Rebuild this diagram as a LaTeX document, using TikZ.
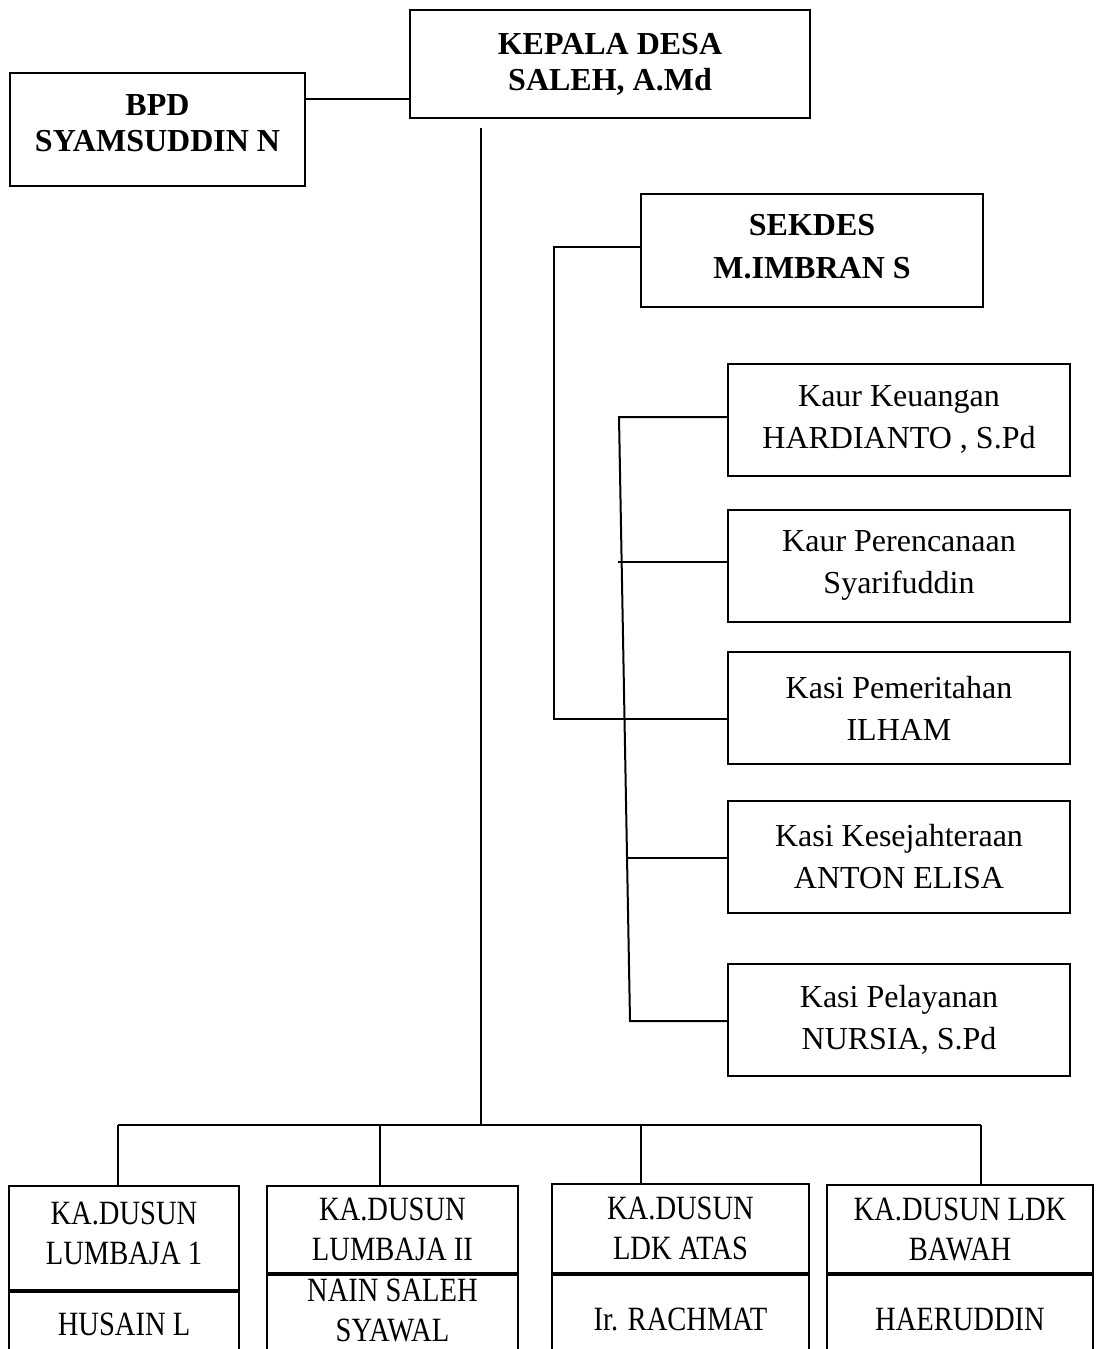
\documentclass[tikz,border=0pt]{standalone}
\usepackage{fontspec}
\setmainfont{Liberation Serif}
\newfontfamily\narrowserif[FakeStretch=0.84]{Liberation Serif}
\usetikzlibrary{positioning}
\tikzset{
  headbox/.style={draw, line width=1pt, align=center, inner sep=0pt,
    font=\fontsize{16}{18}\selectfont\bfseries},
  staffbox/.style={draw, line width=1pt, align=center, inner sep=0pt,
    minimum width=171pt, minimum height=56pt, font=\fontsize{16}{21}\selectfont},
  dusunbox/.style={draw, line width=1pt, align=center, inner sep=0pt,
    font=\narrowserif\fontsize{17}{20}\selectfont},
  link/.style={line width=1pt},
}
\begin{document}
\begin{tikzpicture}[x=0.5pt, y=-0.5pt]
    \useasboundingbox (0,0) rectangle (1097,1349);
    \clip (0,0) rectangle (1097,1349);

    % Head of village and BPD
    \node[headbox, minimum width=200pt, minimum height=54pt] (kades) at (610,64) {KEPALA DESA\\SALEH, A.Md};
    \node[headbox, minimum width=147.5pt, minimum height=56.5pt, text depth=6pt] (bpd) at (157.5,129.5) {BPD\\SYAMSUDDIN N};
    \coordinate (bk) at (0,99);
    \draw[link] (bpd.east |- bk) -- (kades.west |- bk);

    % Secretary
    \node[headbox, minimum width=171pt, minimum height=56.5pt, text depth=4pt,
          font=\fontsize{16}{21.5}\selectfont\bfseries] (sekdes) at (812,250) {SEKDES\\M.IMBRAN S};

    % Staff column
    \node[staffbox] (keu) at (899,419.5) {Kaur Keuangan\\HARDIANTO , S.Pd};
    \node[staffbox] (ren) at (899,565.5) {Kaur Perencanaan\\Syarifuddin};
    \node[staffbox] (pem) at (899,708) {Kasi Pemeritahan\\ILHAM};
    \node[staffbox] (kes) at (899,856.5) {Kasi Kesejahteraan\\ANTON ELISA};
    \node[staffbox] (pel) at (899,1019.5) {Kasi Pelayanan\\NURSIA, S.Pd};

    % Main trunk
    \coordinate (trunktop) at (481,128);
    \coordinate (bus) at (481,1125);
    \draw[link] (trunktop) -- (bus);

    % Secretary bracket
    \coordinate (sk1) at (554,247);
    \coordinate (sk2) at (554,719);
    \draw[link] (sekdes.west |- sk1) -- (sk1) -- (sk2) -- (pem.west |- sk2);

    % Staff bracket
    \coordinate (ib1) at (619,417);
    \coordinate (ib2) at (630,1021);
    \draw[link] (keu.west |- ib1) -- (ib1) -- (ib2) -- (pel.west |- ib2);
    \coordinate (ibren) at (618,562);
    \draw[link] (ibren) -- (ren.west |- ibren);
    \coordinate (ibkes) at (627,858);
    \draw[link] (ibkes) -- (kes.west |- ibkes);

    % Hamlet heads
    \node[dusunbox, minimum width=115pt, minimum height=52pt, text depth=5pt] (d1a) at (124,1238) {KA.DUSUN\\LUMBAJA 1};
    \node[dusunbox, minimum width=115pt, minimum height=32.5pt, below=0pt of d1a] (d1b) {HUSAIN L};
    \node[dusunbox, minimum width=125.5pt, minimum height=43.5pt] (d2a) at (392.5,1229.5) {KA.DUSUN\\LUMBAJA II};
    \node[dusunbox, minimum width=125.5pt, minimum height=41pt, text depth=6pt, below=0pt of d2a] (d2b) {NAIN SALEH\\SYAWAL};
    \node[dusunbox, minimum width=128.5pt, minimum height=44.5pt] (d3a) at (680.5,1228.5) {KA.DUSUN\\LDK ATAS};
    \node[dusunbox, minimum width=128.5pt, minimum height=44pt, below=0pt of d3a] (d3b) {Ir. RACHMAT};
    \node[dusunbox, minimum width=133pt, minimum height=44pt] (d4a) at (960,1229) {KA.DUSUN LDK\\BAWAH};
    \node[dusunbox, minimum width=133pt, minimum height=44pt, below=0pt of d4a] (d4b) {HAERUDDIN};

    % Bus to hamlets
    \coordinate (busL) at (118,1125);
    \coordinate (busR) at (981,1125);
    \draw[link] (busL) -- (busR);
    \foreach \dx/\dname in {118/d1a, 380/d2a, 641/d3a, 981/d4a} {
        \coordinate (drop) at (\dx,1125);
        \draw[link] (drop) -- (drop |- \dname.north);
    }
\end{tikzpicture}
\end{document}
